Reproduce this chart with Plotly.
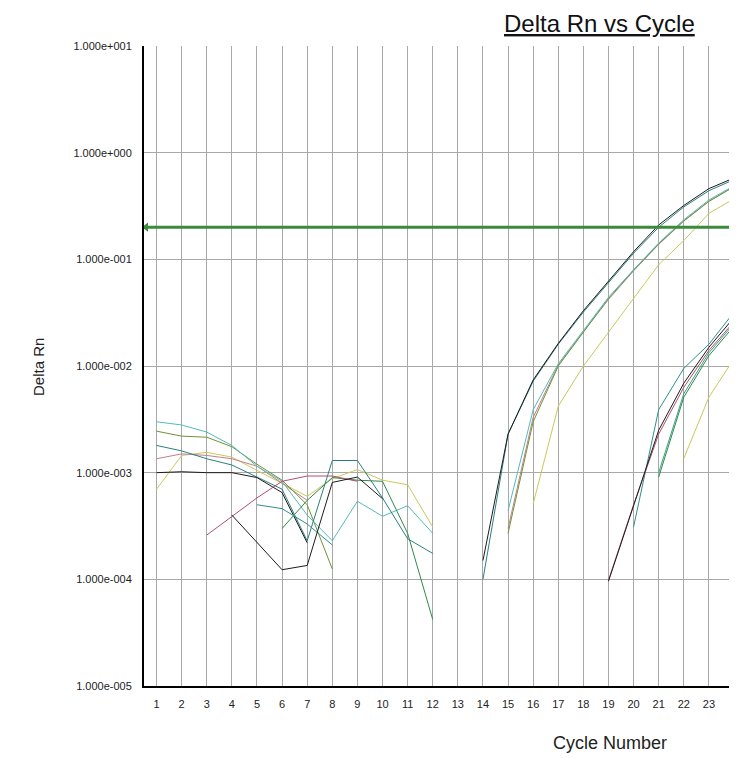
import plotly.graph_objects as go

# ---------------- data ----------------
cycles = list(range(1, 25))

# Group A wells (earlier amplification)
well_a_black = [1.0e-3, 1.02e-3, 1.0e-3, 1.0e-3, 9.0e-4, 6.5e-4, 2.2e-4, None, None, None, None, None,
                None, 1.5e-4, 2.3e-3, 7.4e-3, 1.63e-2, 3.3e-2, 6.3e-2, 0.118, 0.21, 0.32, 0.46, 0.58]
well_a_teal = [1.8e-3, 1.6e-3, 1.35e-3, 1.18e-3, 9.1e-4, 7.0e-4, 2.3e-4, 1.3e-3, 1.3e-3, 5.8e-4, 2.4e-4, 1.75e-4,
               None, 1.0e-4, 2.3e-3, 7.2e-3, 1.6e-2, 3.2e-2, 6.1e-2, 0.114, 0.20, 0.31, 0.44, 0.56]
well_a_cyan = [3.0e-3, 2.8e-3, 2.4e-3, 1.8e-3, 1.15e-3, 8.3e-4, 4.0e-4, 2.3e-4, 5.4e-4, 3.9e-4, 4.9e-4, 2.7e-4,
               None, None, 4.4e-4, 3.9e-3, 1.05e-2, 2.15e-2, 4.4e-2, 8.0e-2, 0.142, 0.235, 0.36, 0.49]
well_a_olive = [2.45e-3, 2.2e-3, 2.15e-3, 1.75e-3, 1.2e-3, 8.5e-4, 5.0e-4, 1.25e-4, None, None, None, None,
                None, None, 2.7e-4, 3.0e-3, 1.0e-2, 2.1e-2, 4.3e-2, 7.9e-2, 0.14, 0.23, 0.35, 0.48]
well_a_pink = [1.35e-3, 1.5e-3, 1.45e-3, 1.35e-3, 1.15e-3, 8.0e-4, 5.5e-4, None, None, None, None, None,
               None, None, 3.0e-4, 3.3e-3, 1.02e-2, 2.1e-2, 4.2e-2, 7.8e-2, 0.138, 0.228, 0.35, 0.48]
well_a_yellow = [7.0e-4, 1.45e-3, 1.55e-3, 1.4e-3, 1.05e-3, 8.0e-4, 6.0e-4, 8.8e-4, 1.07e-3, 8.5e-4, 7.7e-4, 3.1e-4,
                 None, None, None, 5.1e-4, 4.2e-3, 1.0e-2, 2.1e-2, 4.3e-2, 8.9e-2, 0.15, 0.27, 0.37]

# Group B wells (later amplification)
well_b_black = [None, None, None, 4.0e-4, 2.2e-4, 1.23e-4, 1.35e-4, 8.1e-4, 9.1e-4, 5.7e-4, None, None,
                None, None, None, None, None, None, 9.6e-5, 4.9e-4, 2.5e-3, 6.9e-3, 1.5e-2, 2.85e-2]
well_b_pink = [None, None, 2.6e-4, 3.9e-4, 5.8e-4, 8.3e-4, 9.3e-4, 9.3e-4, 8.3e-4, None, None, None,
               None, None, None, None, None, None, 9.8e-5, 5.0e-4, 2.3e-3, 6.3e-3, 1.4e-2, 2.6e-2]
well_b_teal = [None, None, None, None, 5.0e-4, 4.6e-4, 3.3e-4, 2.1e-4, None, None, None, None,
               None, None, None, None, None, None, None, 3.1e-4, 3.9e-3, 9.5e-3, 1.6e-2, 3.2e-2]
well_b_green = [None, None, None, None, None, 3.0e-4, 5.5e-4, 9.0e-4, 8.5e-4, 8.3e-4, 2.7e-4, 4.2e-5,
                None, None, None, None, None, None, None, None, 9.1e-4, 5.1e-3, 1.25e-2, 2.37e-2]
well_b_tealgreen = [None, None, None, None, None, None, None, None, None, None, None, None,
                    None, None, None, None, None, None, None, None, 1.0e-3, 5.5e-3, 1.33e-2, 2.5e-2]
well_b_yellow = [None, None, None, None, None, None, None, None, None, None, None, None,
                 None, None, None, None, None, None, None, None, None, 1.36e-3, 5.1e-3, 1.17e-2]

threshold = 0.2

ytick_vals = [1e-5, 1e-4, 1e-3, 1e-2, 1e-1, 1e0, 1e1]
ytick_text = ["1.000e-005", "1.000e-004", "1.000e-003", "1.000e-002", "1.000e-001", "1.000e+000", "1.000e+001"]

series = [
    (well_a_yellow, "#c9c95a"),
    (well_a_pink, "#c47e8e"),
    (well_a_olive, "#6f9434"),
    (well_a_cyan, "#52bcbc"),
    (well_a_teal, "#2b7f7f"),
    (well_a_black, "#1c1c1c"),
    (well_b_yellow, "#c9c95a"),
    (well_b_tealgreen, "#3c9e8c"),
    (well_b_green, "#2f8a4a"),
    (well_b_teal, "#2f8f8f"),
    (well_b_pink, "#b0506e"),
    (well_b_black, "#1c1c1c"),
]

FONT = "Liberation Sans, Arial, sans-serif"

fig = go.Figure()
for vals, col in series:
    fig.add_trace(go.Scatter(x=cycles, y=vals, mode="lines",
                             line=dict(color=col, width=1),
                             connectgaps=False, hoverinfo="skip", showlegend=False))

# threshold line
fig.add_trace(go.Scatter(x=[0.5, 23.8], y=[threshold, threshold], mode="lines",
                         line=dict(color="#3a8c3a", width=3), hoverinfo="skip", showlegend=False))
fig.add_trace(go.Scatter(x=[0.58], y=[threshold], mode="markers",
                         marker=dict(symbol="triangle-left", size=8, color="#3a8c3a"),
                         cliponaxis=False, hoverinfo="skip", showlegend=False))

# page body adds an 8px offset; the figure is sized so it ends where the reference's drawing ends
OFF = 8
L, R, T, B = 136, 0, 38, 72
W, H = 721, 750
pw = W - L - R
ph = H - T - B

def px(xs):
    return (xs - OFF - L) / pw

def py(ys):
    return (H - B - (ys - OFF)) / ph

fig.update_layout(
    width=W, height=H,
    margin=dict(l=L, r=R, t=T, b=B, pad=0),
    paper_bgcolor="white", plot_bgcolor="white",
    font=dict(family=FONT, color="#222222"),
    xaxis=dict(range=[0.5, 23.8], tick0=1, dtick=1, showgrid=True, gridcolor="#a8a8a8", gridwidth=1,
               zeroline=False, showline=True, linecolor="black", linewidth=2, ticks="",
               tickfont=dict(size=11, family=FONT, color="#222222"), ticklabelstandoff=7),
    yaxis=dict(type="log", range=[-5, 1], tickvals=ytick_vals, ticktext=ytick_text,
               showgrid=True, gridcolor="#a8a8a8", gridwidth=1, zeroline=False,
               showline=True, linecolor="black", linewidth=2, ticks="",
               tickfont=dict(size=11, family=FONT, color="#222222"), ticklabelstandoff=8),
    annotations=[
        dict(text="<u>Delta Rn vs Cycle</u>", xref="paper", yref="paper", x=px(503), y=py(24),
             xanchor="left", yanchor="middle", showarrow=False, borderpad=0,
             font=dict(size=24, family=FONT, color="#111111")),
        dict(text="Delta Rn", xref="paper", yref="paper", x=px(38), y=py(367), textangle=-90,
             xanchor="center", yanchor="middle", showarrow=False,
             font=dict(size=15, family=FONT, color="#222222")),
        dict(text="Cycle Number", xref="paper", yref="paper", x=px(610), y=py(743),
             xanchor="center", yanchor="middle", showarrow=False,
             font=dict(size=18, family=FONT, color="#222222")),
    ],
)

fig.write_html("out.html")
